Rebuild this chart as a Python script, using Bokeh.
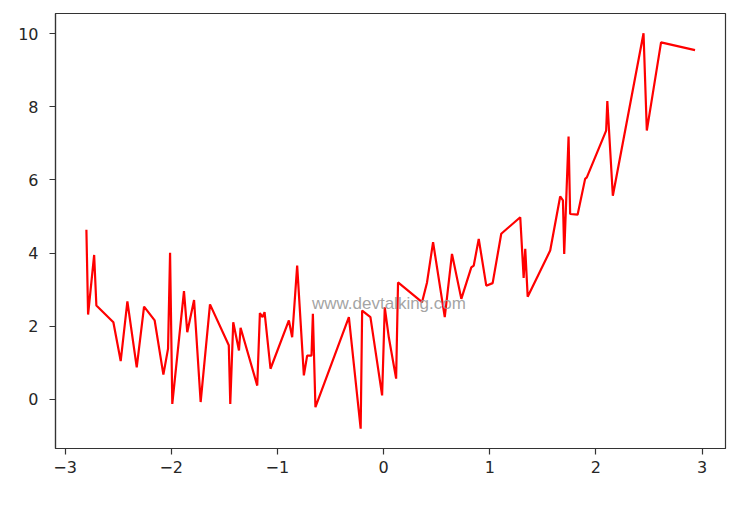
from bokeh.plotting import figure
from bokeh.models import Range1d, FixedTicker, Label
from bokeh.embed import file_html
from bokeh.resources import INLINE

# data
xs = [-2.799, -2.783, -2.726, -2.705, -2.545, -2.476, -2.413, -2.325, -2.256, -2.156,
      -2.074, -2.030, -2.011, -1.990, -1.880, -1.849, -1.785, -1.723, -1.635, -1.458,
      -1.444, -1.416, -1.362, -1.347, -1.190, -1.165, -1.140, -1.121, -1.065, -0.892,
      -0.861, -0.814, -0.751, -0.720, -0.679, -0.666, -0.642, -0.327, -0.216, -0.202,
      -0.124, -0.014, 0.011, 0.049, 0.118, 0.136, 0.362, 0.409, 0.466, 0.576,
      0.644, 0.732, 0.826, 0.849, 0.896, 0.967, 1.027, 1.108, 1.287, 1.319,
      1.334, 1.357, 1.569, 1.663, 1.689, 1.701, 1.742, 1.757, 1.827, 1.898,
      1.914, 2.096, 2.107, 2.159, 2.448, 2.479, 2.613, 2.933]
ys = [4.64, 2.32, 3.95, 2.57, 2.11, 1.05, 2.68, 0.88, 2.54, 2.16,
      0.68, 1.39, 4.01, -0.12, 2.96, 1.84, 2.72, -0.07, 2.60, 1.48,
      -0.12, 2.11, 1.34, 1.96, 0.38, 2.36, 2.25, 2.39, 0.84, 2.16,
      1.70, 3.66, 0.66, 1.20, 1.20, 2.34, -0.21, 2.25, -0.80, 2.43,
      2.25, 0.11, 2.52, 1.70, 0.57, 3.20, 2.66, 3.20, 4.30, 2.25,
      3.98, 2.75, 3.61, 3.66, 4.39, 3.11, 3.18, 4.53, 4.98, 3.32,
      4.12, 2.81, 4.07, 5.55, 5.44, 3.98, 7.19, 5.07, 5.05, 6.03,
      6.07, 7.35, 8.16, 5.57, 10.01, 7.35, 9.76, 9.55]

x_ticks = [-3, -2, -1, 0, 1, 2, 3]
y_ticks = [0, 2, 4, 6, 8, 10]
watermark = "www.devtalking.com"

p = figure(width=745, height=493, output_backend="svg", toolbar_location=None,
           x_range=Range1d(-3.09, 3.22), y_range=Range1d(-1.34, 10.55),
           min_border_left=55, min_border_top=13, min_border_right=20, min_border_bottom=45)

p.line(xs, ys, line_color="#ff0000", line_width=2.2)

p.add_layout(Label(x=0.05, y=2.62, text=watermark, text_align="center", text_baseline="middle",
                   text_font="Liberation Sans", text_font_size="17px", text_color="#999999",
                   text_alpha=0.9))

p.xgrid.visible = False
p.ygrid.visible = False
p.outline_line_color = "#333333"
p.outline_line_width = 1.2

p.xaxis.ticker = FixedTicker(ticks=x_ticks)
p.yaxis.ticker = FixedTicker(ticks=y_ticks)
p.xaxis.major_label_overrides = {t: str(t).replace("-", "\u2212") for t in x_ticks}
p.yaxis.major_label_overrides = {t: str(t) for t in y_ticks}

for ax in (p.xaxis[0], p.yaxis[0]):
    ax.axis_line_color = "#333333"
    ax.axis_line_width = 1.2
    ax.major_tick_line_color = "#333333"
    ax.major_tick_line_width = 1.2
    ax.major_tick_out = 6
    ax.major_tick_in = 0
    ax.minor_tick_out = 0
    ax.minor_tick_in = 0
    ax.major_label_text_font = "DejaVu Sans"
    ax.major_label_text_font_size = "16px"
    ax.major_label_text_color = "#262626"

p.xaxis[0].major_label_standoff = 6
p.yaxis[0].major_label_standoff = 11

open("out.html", "w").write(file_html(p, INLINE))
